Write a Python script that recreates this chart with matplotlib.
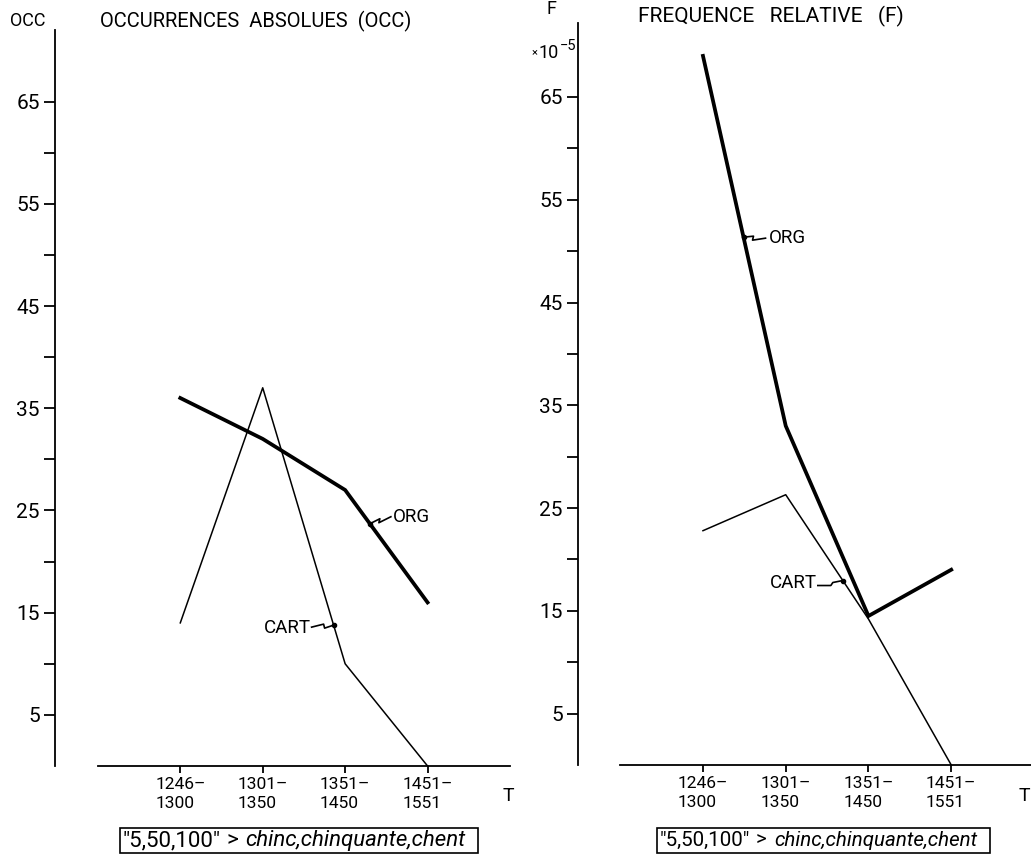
import numpy as np
import matplotlib
matplotlib.use("Agg")
import matplotlib.pyplot as plt
from matplotlib.patches import Rectangle
from matplotlib.transforms import ScaledTranslation

plt.rcParams['font.family'] = ['Roboto', 'DejaVu Sans']

# data
periods = ['1246–\n1300', '1301–\n1350', '1351–\n1450', '1451–\n1551']
pos = [1, 2, 3, 4]

occ_org = [36, 32, 27, 16]
occ_cart = [14, 37, 10, 0]

freq_org = [69, 33, 14.5, 19]
freq_cart = [22.8, 26.3, 14.2, 0]

major_y = [5, 15, 25, 35, 45, 55, 65]
minor_y = [10, 20, 30, 40, 50, 60]

W, H = 1031, 856
fig = plt.figure(figsize=(W / 100, H / 100), dpi=100)
fig.patch.set_facecolor('white')


def fx(x):
    return x / W


def fy(y):
    return 1 - y / H


def make_axes(left, right, top, bottom, xmin, ymax):
    ax = fig.add_axes([fx(left), fy(bottom), fx(right - left), (bottom - top) / H])
    ax.set_xlim(xmin, 5)
    ax.set_ylim(0, ymax)
    for s in ['top', 'right']:
        ax.spines[s].set_visible(False)
    ax.spines['left'].set_linewidth(1.3)
    ax.spines['bottom'].set_linewidth(1.3)
    ax.spines['bottom'].set_bounds(0, 5)
    ax.set_yticks(major_y)
    ax.set_yticks(minor_y, minor=True)
    ax.set_yticklabels([str(v) for v in major_y])
    ax.tick_params(axis='y', which='both', direction='out', length=8, width=1.3,
                   pad=3, labelsize=15)
    ax.set_xticks(pos)
    ax.set_xticklabels(periods, multialignment='left', linespacing=1.3)
    ax.tick_params(axis='x', direction='out', length=5, width=1.3, pad=3, labelsize=12.5)
    ax.patch.set_alpha(0)
    return ax


def zigzag(ax, xpos, ys, pts, label, tx, ty, ha):
    y = np.interp(xpos, pos, ys)
    tr = fig.dpi_scale_trans + ScaledTranslation(xpos, y, ax.transData)
    p = np.array(pts) / 100.0
    ax.plot(p[:, 0], p[:, 1], transform=tr, color='black', lw=1.2, clip_on=False)
    ax.plot([0], [0], 'o', ms=3, color='black', transform=tr, clip_on=False)
    ax.text(tx / 100.0, ty / 100.0, label, transform=tr, ha=ha, va='center', fontsize=13.5)


# left chart: absolute occurrences
ax1 = make_axes(55, 510, 30, 766, -0.52, 72)
ax1.plot(pos, occ_org, color='black', lw=2.7, solid_joinstyle='miter', clip_on=False)
ax1.plot(pos, occ_cart, color='black', lw=1.1, clip_on=False)
zigzag(ax1, 3.3, occ_org, [(0, 0), (10, 5), (9, 1), (21, 7)], 'ORG', 23, 7, 'left')
zigzag(ax1, 2.86, occ_cart, [(0, 0), (-9, -3), (-10, 1), (-22, -2)], 'CART', -23, -3, 'right')
fig.text(fx(508), fy(796), 'T', ha='center', va='center', fontsize=14)

# right chart: relative frequency
ax2 = make_axes(578, 1034, 23, 765, -0.51, 72.2)
ax2.plot(pos, freq_org, color='black', lw=2.7, solid_joinstyle='miter', clip_on=False)
ax2.plot(pos, freq_cart, color='black', lw=1.1, clip_on=False)
zigzag(ax2, 1.49, freq_org, [(0, 0), (10, 1), (9, -3), (22, -1)], 'ORG', 25, -1, 'left')
zigzag(ax2, 2.69, freq_cart, [(0, 0), (-10, -2), (-12, -5), (-25, -5)], 'CART', -26, -2, 'right')
fig.text(fx(1030), fy(796), 'T', ha='right', va='center', fontsize=14)

# titles and axis names
fig.text(fx(10), fy(21), 'OCC', ha='left', va='center', fontsize=13)
fig.text(fx(100), fy(21), 'OCCURRENCES  ABSOLUES  (OCC)', ha='left', va='center', fontsize=14.5)
fig.text(fx(551), fy(9), 'F', ha='center', va='center', fontsize=13)
fig.text(fx(638), fy(16), 'FREQUENCE   RELATIVE   (F)', ha='left', va='center', fontsize=15)
fig.text(fx(538), fy(52), '×', ha='right', va='center', fontsize=8)
fig.text(fx(539), fy(53), '10', ha='left', va='center', fontsize=13)
fig.text(fx(560), fy(46), '−5', ha='left', va='center', fontsize=10.5)

# boxed captions
for x0, x1, xg, xi, size in [(120, 478, 232, 245, 16), (657, 990, 761, 774, 14.8)]:
    fig.patches.append(Rectangle((fx(x0), fy(853)), fx(x1 - x0), (853 - 828) / H,
                                 transform=fig.transFigure, fill=False, lw=1.2,
                                 edgecolor='black'))
    fig.text(fx(x0 + 3), fy(840.5), '"5,50,100"', ha='left', va='center', fontsize=size)
    fig.text(fx(xg), fy(840.5), '>', ha='center', va='center', fontsize=size)
    fig.text(fx(xi), fy(840.5), 'chinc,chinquante,chent', ha='left', va='center',
             fontsize=size, style='italic')

fig.savefig('out.png', dpi=100, facecolor='white')
